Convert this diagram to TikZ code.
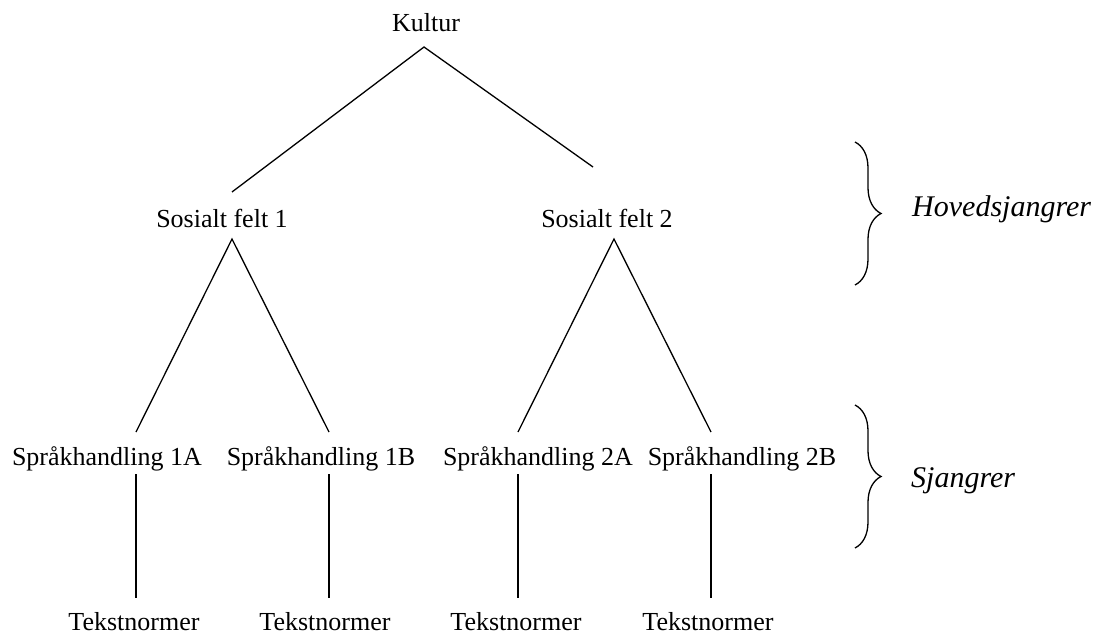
\documentclass[tikz,border=0pt]{standalone}
\usepackage{fontspec}
\setmainfont{Liberation Serif}
\usetikzlibrary{decorations.pathreplacing}
\begin{document}
\begin{tikzpicture}[x=1pt,y=-1pt,
  lbl/.style={anchor=base,inner sep=0pt,font=\fontsize{26}{30}\selectfont},
  side/.style={anchor=base west,inner sep=0pt,font=\fontsize{30}{34}\selectfont\itshape},
  edge/.style={line width=1.3pt},
  bracket/.style={line width=1.3pt,decorate,decoration={brace,amplitude=26pt,aspect=0.5}}]
\useasboundingbox (0,0) rectangle (1104,634);

% tree labels
\node[lbl] (kultur) at (426,32) {Kultur};
\node[lbl] (sf1) at (222,227) {Sosialt felt 1};
\node[lbl] (sf2) at (607,227) {Sosialt felt 2};
\node[lbl] (s1a) at (107,465) {Språkhandling 1A};
\node[lbl] (s1b) at (321,465) {Språkhandling 1B};
\node[lbl] (s2a) at (538,465) {Språkhandling 2A};
\node[lbl] (s2b) at (742,465) {Språkhandling 2B};
\node[lbl] (t1a) at (134,630) {Tekstnormer};
\node[lbl] (t1b) at (325,630) {Tekstnormer};
\node[lbl] (t2a) at (516,630) {Tekstnormer};
\node[lbl] (t2b) at (708,630) {Tekstnormer};

% connector end points
\coordinate (kultur-b) at (424,47);
\coordinate (sf1-t) at (232,192);
\coordinate (sf2-t) at (593,167);
\coordinate (sf1-b) at (232,239);
\coordinate (sf2-b) at (614,239);
\coordinate (s1a-t) at (136,432);
\coordinate (s1b-t) at (329,432);
\coordinate (s2a-t) at (518,432);
\coordinate (s2b-t) at (711,432);
\coordinate (s1a-b) at (136,474);
\coordinate (s1b-b) at (329,474);
\coordinate (s2a-b) at (518,474);
\coordinate (s2b-b) at (711,474);
\coordinate (t1a-t) at (136,598);
\coordinate (t1b-t) at (329,598);
\coordinate (t2a-t) at (518,598);
\coordinate (t2b-t) at (711,598);

% branches
\draw[edge] (sf1-t) -- (kultur-b) -- (sf2-t);
\draw[edge] (s1a-t) -- (sf1-b) -- (s1b-t);
\draw[edge] (s2a-t) -- (sf2-b) -- (s2b-t);
\draw[edge] (s1a-b) -- (t1a-t);
\draw[edge] (s1b-b) -- (t1b-t);
\draw[edge] (s2a-b) -- (t2a-t);
\draw[edge] (s2b-b) -- (t2b-t);

% level brackets
\coordinate (hb-top) at (855,142);
\coordinate (hb-bot) at (855,285);
\coordinate (sb-top) at (855,405);
\coordinate (sb-bot) at (855,548);
\draw[bracket] (hb-top) -- (hb-bot);
\draw[bracket] (sb-top) -- (sb-bot);
\node[side] (hoved) at (912,216) {Hovedsjangrer};
\node[side] (sjang) at (911,487) {Sjangrer};
\end{tikzpicture}
\end{document}
